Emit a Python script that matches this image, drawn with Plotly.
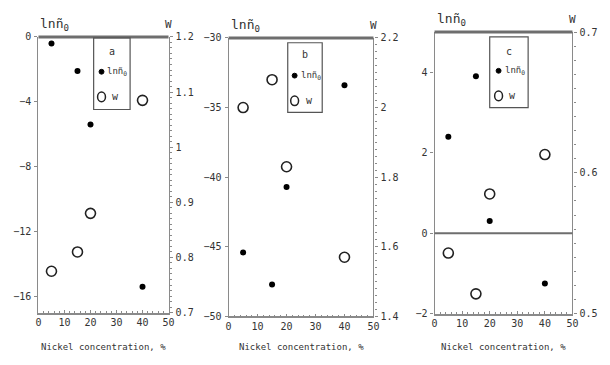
import plotly.graph_objects as go

# ---- data ----
nickel = [5, 15, 20, 40]
lnn_a = [-0.4, -2.1, -5.4, -15.4]
w_a = [0.775, 0.81, 0.88, 1.085]
lnn_b = [-45.4, -47.7, -40.7, -33.4]
w_b = [2.0, 2.08, 1.83, 1.57]
lnn_c = [2.4, 3.9, 0.3, -1.25]
w_c = [0.543, 0.514, 0.585, 0.613]
panel_names = ["a", "b", "c"]
x_ticks = [0, 10, 20, 30, 40, 50]

W, H = 610, 365
def fx(px):
    return px / W
def fy(py):
    return 1 - py / H

FONT = "DejaVu Sans Mono"
AX = "#8a8a8a"
TXT = "#333333"

panels = [
    dict(lnn=lnn_a, w=w_a, px=(36, 168), py=(32, 317), lrange=[-17, 0], ltick0=0, ldtick=4,
         rrange=[0.7, 1.2], rdtick=0.1,
         box=(92, 129, 33, 107), rows=(47, 68, 94), sym_x=100, w_x=114),
    dict(lnn=lnn_b, w=w_b, px=(229, 376), py=(33, 321), lrange=[-50, -30], ltick0=-50, ldtick=5,
         rrange=[1.4, 2.2], rdtick=0.2,
         box=(289, 324, 38, 110), rows=(50, 72, 98), sym_x=296, w_x=311),
    dict(lnn=lnn_c, w=w_c, px=(438, 578), py=(27, 318), lrange=[-2, 5], ltick0=0, ldtick=2,
         rrange=[0.5, 0.7], rdtick=0.1,
         box=(494, 533, 32, 105), rows=(47, 67, 93), sym_x=503, w_x=517),
]

fig = go.Figure()
layout = dict(width=W, height=H, margin=dict(l=0, r=0, t=0, b=0),
              paper_bgcolor="white", plot_bgcolor="white", showlegend=False,
              font=dict(family=FONT, size=10, color=TXT))
shapes, annotations = [], []

for i, p in enumerate(panels):
    k = i + 1
    xs = "" if k == 1 else str(k)
    xid, yid, rid = "x" + xs, "y" + xs, "y" + str(k + 3)
    fig.add_trace(go.Scatter(x=nickel, y=p["lnn"], mode="markers", xaxis=xid, yaxis=yid,
                             marker=dict(symbol="circle", size=6, color="black")))
    fig.add_trace(go.Scatter(x=nickel, y=p["w"], mode="markers", xaxis=xid, yaxis=rid,
                             marker=dict(symbol="circle-open", size=10, color="#222",
                                         line=dict(width=1.6))))
    xdom = [fx(p["px"][0]), fx(p["px"][1])]
    ydom = [fy(p["py"][1]), fy(p["py"][0])]
    layout["xaxis" + xs] = dict(domain=xdom, anchor=yid, range=[0, 50], tickvals=x_ticks,
                                showline=True, linecolor=AX, linewidth=1.5, ticks="inside",
                                ticklen=3, tickcolor=AX, showgrid=False, zeroline=False,
                                minor=dict(dtick=2, ticks="inside", ticklen=2, tickcolor=AX),
                                tickfont=dict(family=FONT, size=10, color=TXT))
    layout["yaxis" + xs] = dict(domain=ydom, anchor=xid, range=p["lrange"], tick0=p["ltick0"],
                                dtick=p["ldtick"], showline=True, linecolor=AX, linewidth=1.2,
                                ticks="outside", ticklen=3, tickcolor=AX, showgrid=False,
                                zeroline=False, ticklabelstandoff=1,
                                tickfont=dict(family=FONT, size=10, color=TXT))
    layout["yaxis" + str(k + 3)] = dict(overlaying=yid, anchor=xid, side="right", range=p["rrange"],
                                        dtick=p["rdtick"], showline=True, linecolor=AX, linewidth=1.2,
                                        ticks="outside", ticklen=3, tickcolor=AX, showgrid=False,
                                        zeroline=False, ticklabelstandoff=1,
                                        minor=dict(nticks=10, ticks="outside", ticklen=2, tickcolor=AX),
                                        tickfont=dict(family=FONT, size=10, color=TXT))
    # thick top border
    shapes.append(dict(type="line", xref=xid + " domain", yref=yid + " domain",
                       x0=0, x1=1, y0=1, y1=1, line=dict(color="#6e6e6e", width=3)))
    if k == 3:
        shapes.append(dict(type="line", xref=xid + " domain", yref=yid,
                           x0=0, x1=1, y0=0, y1=0, line=dict(color="#6e6e6e", width=2)))
    # axis labels
    annotations.append(dict(x=fx(p["px"][0]), y=fy(p["py"][0] - 2), xref="paper", yref="paper",
                            xanchor="left", yanchor="bottom", showarrow=False,
                            text="lnñ<sub>0</sub>", font=dict(family=FONT, size=13, color=TXT)))
    annotations.append(dict(x=fx(p["px"][1]), y=fy(p["py"][0] - 4), xref="paper", yref="paper",
                            xanchor="center", yanchor="bottom", showarrow=False,
                            text="W", font=dict(family=FONT, size=11, color=TXT)))
    annotations.append(dict(x=(xdom[0] + xdom[1]) / 2, y=fy(353), xref="paper", yref="paper",
                            xanchor="center", yanchor="middle", showarrow=False,
                            text="Nickel concentration, %", font=dict(family=FONT, size=9, color=TXT)))
    # legend box
    bx0, bx1, by0, by1 = p["box"]
    shapes.append(dict(type="rect", xref="paper", yref="paper", x0=fx(bx0), x1=fx(bx1),
                       y0=fy(by1), y1=fy(by0), line=dict(color="#555", width=1.2)))
    r0, r1, r2 = p["rows"]
    sx = p["sym_x"]
    # legend symbols (filled dot, open circle)
    shapes.append(dict(type="circle", xref="paper", yref="paper",
                       x0=fx(sx - 2.5), x1=fx(sx + 2.5), y0=fy(r1 + 2.5), y1=fy(r1 - 2.5),
                       fillcolor="black", line=dict(color="black", width=1)))
    shapes.append(dict(type="circle", xref="paper", yref="paper",
                       x0=fx(sx - 4), x1=fx(sx + 4), y0=fy(r2 + 5), y1=fy(r2 - 5),
                       line=dict(color="#222", width=1.5)))
    annotations.append(dict(x=fx((bx0 + bx1) / 2), y=fy(r0), xref="paper", yref="paper",
                            xanchor="center", yanchor="middle", showarrow=False,
                            text=panel_names[i], font=dict(family=FONT, size=10, color=TXT)))
    annotations.append(dict(x=fx(sx + 4), y=fy(r1), xref="paper", yref="paper",
                            xanchor="left", yanchor="middle", showarrow=False,
                            text="lnñ<sub>0</sub>", font=dict(family=FONT, size=9, color=TXT)))
    annotations.append(dict(x=fx(p["w_x"]), y=fy(r2), xref="paper", yref="paper",
                            xanchor="center", yanchor="middle", showarrow=False, text="w",
                            font=dict(family=FONT, size=10, color=TXT)))

layout["shapes"] = shapes
layout["annotations"] = annotations
fig.update_layout(**layout)
fig.write_html("out.html", config={"displayModeBar": False},
               post_script="document.body.style.margin='0px';document.body.style.overflow='hidden';")
